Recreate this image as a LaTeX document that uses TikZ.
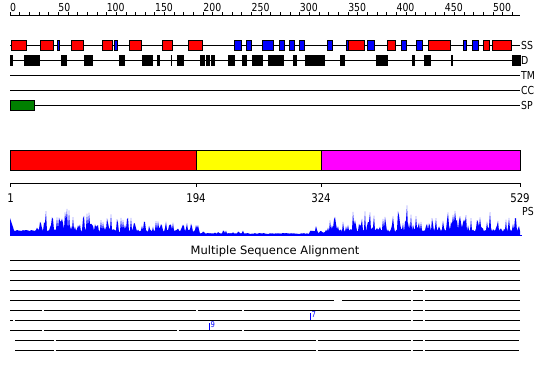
\documentclass[tikz,border=0pt]{standalone}
\usepackage{fontspec}
\setmainfont{DejaVu Sans}
\newfontfamily\cond[FakeStretch=0.85]{DejaVu Sans}
\definecolor{spgreen}{RGB}{0,128,0}
\definecolor{domred}{RGB}{255,0,0}
\definecolor{domyellow}{RGB}{255,255,0}
\definecolor{dommagenta}{RGB}{255,0,255}
\definecolor{ssblue}{RGB}{0,0,255}
\begin{document}
\begin{tikzpicture}[x=1pt,y=-1pt,
  trk/.style={line width=1pt},
  ssbox/.style={draw=black,line width=0.9pt},
  dbox/.style={fill=black,draw=black,line width=0.9pt},
  lab/.style={font=\cond\fontsize{11}{12}\selectfont,anchor=west,inner sep=0pt},
  toplab/.style={font=\cond\fontsize{11}{12}\selectfont,anchor=base west,inner sep=0pt},
  botlab/.style={font=\cond\fontsize{12}{13}\selectfont,anchor=base,inner sep=0pt},
  msa/.style={line width=1pt},
  seqmark/.style={ssblue,line width=0.8pt},
  marklab/.style={ssblue,font=\cond\fontsize{8}{9}\selectfont,anchor=north west,inner sep=0pt},
  declare function={
    psa(\t)=3+2.5*rnd+(26-19*(\t-36)/164)*rnd^3;
    psb(\t)=(\t<330)*(2+2*rnd+8*rnd^3)+(\t>=330)*(3+2.5*rnd+20*rnd^3)+(abs(\t-406)<1.5)*10;
    psc(\t)=(\t<250)*(1.5+3*rnd^3)+(\t>=250)*(1+rnd);
    psh(\t)=(\t<14)*(17-3*(\t-10))+(\t>=14)*(\t<36)*(4+rnd)+(\t>=36)*(\t<200)*psa(\t)+(\t>=200)*(\t<310)*psc(\t)+(\t>=310)*psb(\t);
  }]
\useasboundingbox (0,0) rectangle (550,380);

% ---- top ruler ----
\draw[trk] (10,15) -- (520,15);
\foreach \r in {0,10,...,520} \draw[line width=0.8pt] ({10+\r*0.96591},15) -- ({10+\r*0.96591},12);
\foreach \r in {0,50,...,500} \node[toplab] (t\r) at ({10+\r*0.96591},12) {\r};

% ---- tracks ----
\foreach \y in {45,60,75,90,105} \draw[trk] (10,\y) -- (520,\y);
\node[lab] (lss) at (521,45) {SS};
\node[lab] (ld) at (521,60) {D};
\node[lab] (ltm) at (521,75) {TM};
\node[lab] (lcc) at (521,90) {CC};
\node[lab] (lsp) at (521,105) {SP};

% SS
\foreach \a/\b in {11/26,40/53,71/83,102/112,129/141,162/172,188/202,348/364,387/395,428/450,483/489,492/511}
  \filldraw[ssbox,fill=domred] (\a,40) rectangle (\b,50);
\foreach \a/\b in {57/59,114/117,234/241,246/251,262/273,279/284,289/294,299/304,327/332,346.5/348,367/374,401/406,416/422,463/466,472/478}
  \filldraw[ssbox,fill=ssblue] (\a,40) rectangle (\b,50);

% D
\foreach \a/\b in {10/12,24/37,38.5/39,61/66,84/92,119/124,142/152,157/159,171/171.5,177/183,200/204,206/209,211/214,228/234,242/246,252/262,268/283,293/296,305/310,311/324,340/344,376/387,412/414,424/430,451.5/452.5,512/520}
  \filldraw[dbox] (\a,55) rectangle (\b,65);

% SP
\filldraw[ssbox,fill=spgreen] (10,100) rectangle (34,110);

% ---- domain bar ----
\filldraw[ssbox,fill=domred] (10,150) rectangle (196,170);
\filldraw[ssbox,fill=domyellow] (196,150) rectangle (321,170);
\filldraw[ssbox,fill=dommagenta] (321,150) rectangle (520,170);

% ---- bottom ruler ----
\draw[trk] (10,183) -- (520,183);
\foreach \x in {10,196,321,520} \draw[line width=0.9pt] (\x,183) -- (\x,187);
\node[botlab] (b1) at (10.5,202) {1};
\node[botlab] (b194) at (196,202) {194};
\node[botlab] (b324) at (321,202) {324};
\node[botlab] (b529) at (520,202) {529};

% ---- PS profile ----
\node[lab] (lps) at (522,211) {PS};
\pgfmathsetseed{12}
\fill[ssblue] (10,235) -- plot[domain=10:520,samples=511] (\x,{235-psh(\x)}) -- (520,235) -- cycle;
\draw[ssblue,line width=0.8pt] (10,235) -- (522,235);

% ---- MSA ----
\node[font=\fontsize{11.5}{13}\selectfont,inner sep=0pt] (msat) at (275,251) {Multiple Sequence Alignment};
\draw[msa] (10,260) -- (520,260);
\draw[msa] (10,270) -- (520,270);
\draw[msa] (10,280) -- (520,280);
\draw[msa] (10,290) -- (411,290) (412.6,290) -- (423,290) (425.2,290) -- (520,290);
\draw[msa] (10,300) -- (334,300) (342,300) -- (411,300) (412.6,300) -- (423,300) (425.2,300) -- (520,300);
\draw[msa] (10,310) -- (42.3,310) (43.8,310) -- (196.3,310) (197.8,310) -- (242.3,310) (243.8,310) -- (411,310) (412.6,310) -- (423,310) (425.2,310) -- (520,310);
\draw[msa] (10,320) -- (12.5,320) (15,320) -- (411,320) (412.6,320) -- (423,320) (425.2,320) -- (520,320);
\draw[msa] (10,330) -- (42.3,330) (43.8,330) -- (177.3,330) (178.8,330) -- (242.3,330) (243.8,330) -- (520,330);
\draw[msa] (15,340) -- (54.3,340) (55.8,340) -- (316.3,340) (317.8,340) -- (411,340) (412.6,340) -- (423,340) (425.2,340) -- (519,340);
\draw[msa] (15,350) -- (54.3,350) (55.8,350) -- (316.3,350) (317.8,350) -- (411,350) (412.6,350) -- (423,350) (425.2,350) -- (519,350);

% markers
\draw[seqmark] (209,323) -- (209,330);
\node[marklab] (m9) at (210.5,321) {9};
\draw[seqmark] (310,313) -- (310,320);
\node[marklab] (m7) at (311.5,311) {7};
\end{tikzpicture}
\end{document}
